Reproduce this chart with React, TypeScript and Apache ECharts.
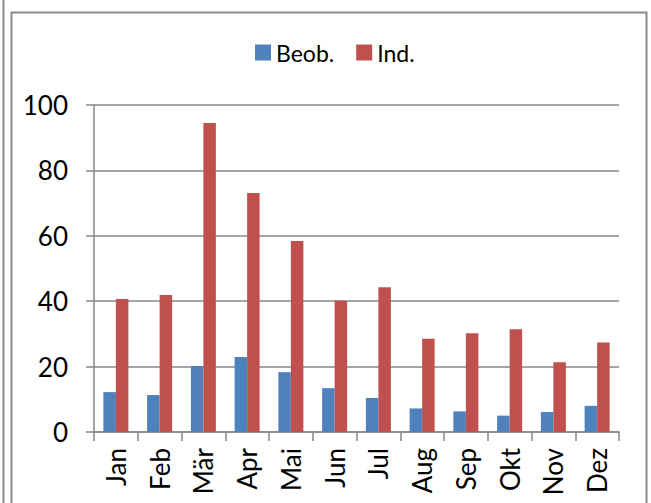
import React, { useEffect, useRef } from "react";
import * as echarts from "echarts";

const categories = ["Jan", "Feb", "Mär", "Apr", "Mai", "Jun", "Jul", "Aug", "Sep", "Okt", "Nov", "Dez"];
const beob = [12.2, 11.3, 20.2, 22.9, 18.3, 13.4, 10.4, 7.2, 6.3, 5.0, 6.1, 8.0];
const ind = [40.7, 41.9, 94.5, 73.1, 58.4, 40.1, 44.3, 28.5, 30.2, 31.4, 21.3, 27.4];
const seriesNames = ["Beob.", "Ind."];

export default function App() {
  const ref = useRef<HTMLDivElement>(null);
  useEffect(() => {
    document.body.style.margin = "0";
    const chart = echarts.init(ref.current!, null, { renderer: "svg" });
    const font = "Lato, 'Open Sans', sans-serif";
    const gray = "#878787";
    chart.setOption({
      animation: false,
      backgroundColor: "#ffffff",
      textStyle: { fontFamily: font },
      graphic: [
        { type: "line", shape: { x1: 3.5, y1: 0, x2: 3.5, y2: 503 }, style: { stroke: "#8c8c8c", lineWidth: 2 } },
        { type: "polyline", shape: { points: [[11.5, 503], [11.5, 12.5], [646.5, 12.5], [646.5, 503]] }, style: { stroke: "#8c8c8c", lineWidth: 2, fill: "none" } },
      ],
      legend: {
        data: seriesNames,
        left: 250,
        top: 36,
        icon: "rect",
        itemWidth: 16,
        itemHeight: 16,
        itemGap: 22,
        textStyle: { fontSize: 23, color: "#000", fontFamily: font, padding: [0, 0, 0, 0] },
      },
      grid: { left: 94, right: 32, top: 105, bottom: 71, containLabel: false },
      xAxis: {
        type: "category",
        data: categories,
        axisLine: { lineStyle: { color: gray, width: 1.5 } },
        axisTick: { show: true, alignWithLabel: false, length: 9, lineStyle: { color: gray, width: 1.5 } },
        axisLabel: { rotate: 90, fontSize: 26, color: "#000", margin: 16, fontFamily: font, interval: 0 },
      },
      yAxis: {
        type: "value",
        min: 0,
        max: 100,
        interval: 20,
        axisLine: { show: true, lineStyle: { color: gray, width: 1.5 } },
        axisTick: { show: true, length: 8, lineStyle: { color: gray, width: 1.5 } },
        axisLabel: { fontSize: 26, color: "#000", margin: 26, fontFamily: font },
        splitLine: { show: true, lineStyle: { color: gray, width: 1.5 } },
      },
      series: [
        { name: seriesNames[0], type: "bar", data: beob, barWidth: 12.5, barGap: "0%", itemStyle: { color: "#4F81BD" } },
        { name: seriesNames[1], type: "bar", data: ind, barWidth: 12.5, barGap: "0%", itemStyle: { color: "#C0504D" } },
      ],
    });
    return () => chart.dispose();
  }, []);
  return <div ref={ref} style={{ width: 651, height: 503 }} />;
}
